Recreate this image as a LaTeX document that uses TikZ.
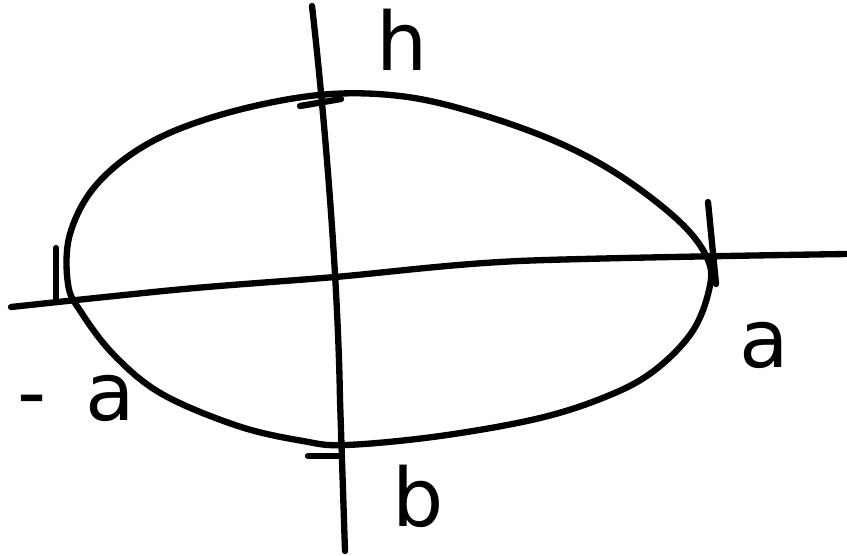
\documentclass[tikz,border=0pt]{standalone}
\usepackage{fontspec}
\setsansfont{DejaVu Sans}
\begin{document}
\begin{tikzpicture}[x=0.02cm, y=-0.02cm, line width=3.6pt, line cap=round, line join=round,
  lbl/.style={font=\sffamily\fontsize{46}{50}\selectfont, inner sep=0pt}]
  \useasboundingbox (0,0) rectangle (847,555);
  % eixos
  \coordinate (vtop) at (312,6);
  \coordinate (vbot) at (345,551);
  \coordinate (hleft) at (11,307);
  \coordinate (hright) at (846,254);
  \draw (vtop) .. controls (325,120) and (338,280) .. (340,400) -- (vbot);
  \draw plot[smooth, tension=0.5] coordinates {(hleft) (184,289) (335,277) (519,261) (hright)};
  % elipse
  \draw plot[smooth cycle, tension=0.6] coordinates {
    (319,95) (400,96) (476,113) (557,142) (622,177) (681,223) (708,260)
    (709,290) (692,332) (655,370) (610,395) (540,418) (440,436) (346,445)
    (303,441) (238,426) (162,394) (114,355) (81,312) (68,284) (70,234)
    (97,184) (151,142) (227,113)};
  % marcas
  \draw (56,248) -- (56,301);
  \draw (708,202) -- (716,284);
  \draw (300,106) -- (341,99);
  \draw (308,456) -- (341,456);
  % rotulos
  \node[lbl] (top) at (402,40) {h};
  \node[lbl] (right) at (764,345) {a};
  \node[lbl] (left) at (76,398) {-\, a};
  \node[lbl] (bottom) at (418,496) {b};
\end{tikzpicture}
\end{document}
